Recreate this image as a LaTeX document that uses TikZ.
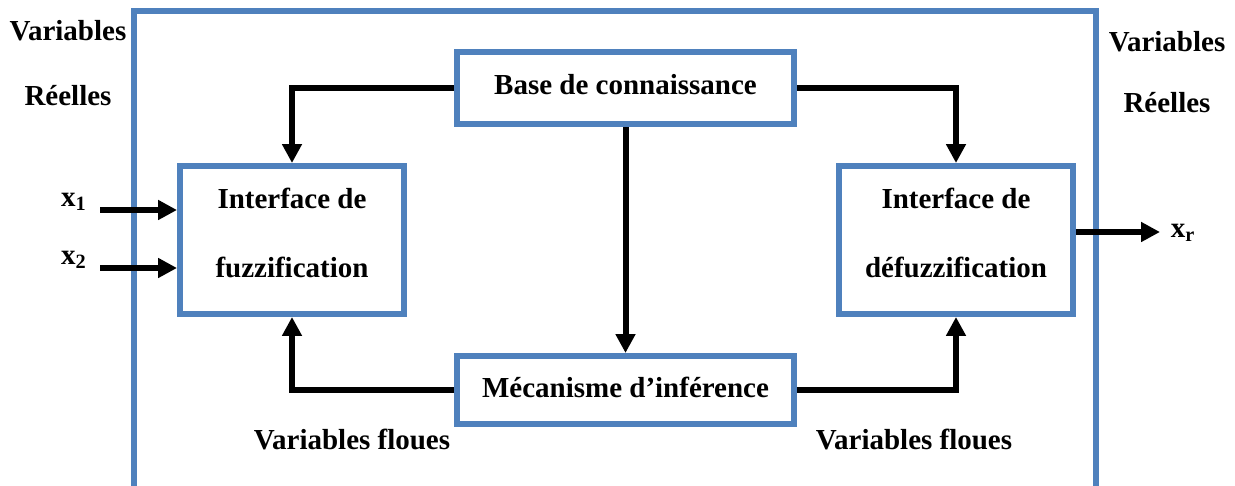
\documentclass[tikz,border=0pt]{standalone}
\usepackage{fontspec}
\setmainfont{Liberation Serif}
\usetikzlibrary{arrows.meta}
\definecolor{boxblue}{RGB}{79,129,189}
\begin{document}
\begin{tikzpicture}[x=0.02cm, y=-0.02cm,
		bloc/.style={draw=boxblue, line width=6*0.02cm, fill=white, inner sep=0pt, align=center,
		  font=\bfseries\fontsize{16.5}{39}\selectfont},
		label/.style={inner sep=0pt, align=center, font=\bfseries\fontsize{16.5}{20}\selectfont},
		flux/.style={line width=6*0.02cm, -{Triangle[length=0.38cm, width=0.38cm]}}]
		\useasboundingbox (0,0) rectangle (1235,486);
		% cadre du systeme flou
		\draw[draw=boxblue, line width=6*0.02cm] (134,490) |- (1096,11.5) -- (1096,490);
		\node[bloc, minimum width=6.74cm, minimum height=1.44cm, text depth=3.5pt] (base) at (625.5,88) {Base de connaissance};
		\node[bloc, minimum width=6.74cm, minimum height=1.36cm, text depth=3.5pt] (meca) at (625.5,390) {M\'ecanisme d'inf\'erence};
		\node[bloc, minimum width=4.48cm, minimum height=2.96cm, text depth=8pt] (fuzz) at (292,240) {Interface de\\fuzzification};
		\node[bloc, minimum width=4.68cm, minimum height=2.96cm, text depth=8pt] (defuzz) at (956,240) {Interface de\\d\'efuzzification};
		\node[label, font=\bfseries\fontsize{16.5}{37}\selectfont] (reelin) at (68,63) {Variables\\R\'eelles};
		\node[label, font=\bfseries\fontsize{16.5}{35}\selectfont] (reelout) at (1167,72) {Variables\\R\'eelles};
		\node[label] (floueg) at (352,440) {Variables floues};
		\node[label] (flouED) at (914,440) {Variables floues};
		% entrees
		\foreach \i/\y in {1/210,2/268}{
		  \node[label] (lx\i) at (74,\y-8) {x\textsubscript{\i}};
		  \coordinate (x\i) at (100,\y);
		  \draw[flux] (x\i) -- (x\i -| fuzz.west);
		}
		% sortie
		\coordinate (xr) at (1160,232);
		\draw[flux] (xr -| defuzz.east) -- (xr);
		\node[label] (lxr) at (1183,233) {x\textsubscript{r}};
		% liaisons
		\draw[flux] (base.west) -| (fuzz.north);
		\draw[flux] (base.east) -| (defuzz.north);
		\draw[flux] (base.south) -- (meca.north);
		\draw[flux] (meca.west) -| (fuzz.south);
		\draw[flux] (meca.east) -| (defuzz.south);
	\end{tikzpicture}
\end{document}
